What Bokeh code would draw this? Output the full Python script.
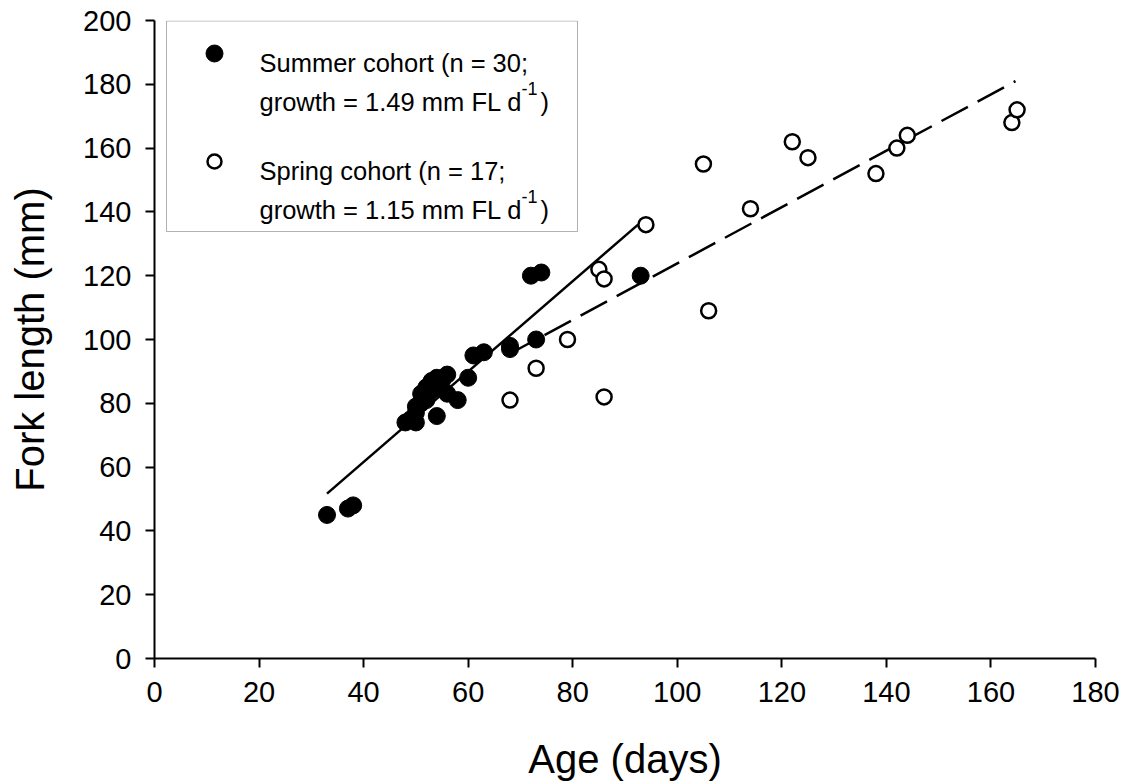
from bokeh.plotting import figure
from bokeh.models import Range1d, FixedTicker, Label, BoxAnnotation
from bokeh.embed import file_html
from bokeh.resources import INLINE

# ---- data ----
summer_age = [33, 37, 38, 48, 49, 50, 50, 50, 51, 51, 52, 52, 52, 53, 53,
              54, 54, 55, 56, 56, 58, 60, 61, 63, 68, 68, 72, 73, 74, 93]
summer_fl = [45, 47, 48, 74, 75, 74, 77, 79, 80, 83, 82, 85, 81, 84, 87,
             76, 88, 87, 89, 83, 81, 88, 95, 96, 98, 97, 120, 100, 121, 120]

spring_age = [68, 73, 79, 85, 86, 86, 94, 105, 106, 114, 122, 125, 138, 142, 144, 164, 165]
spring_fl = [81, 91, 100, 122, 119, 82, 136, 155, 109, 141, 162, 157, 152, 160, 164, 168, 172]

summer_fit_age = [33, 92.5]
summer_fit_fl = [51.7, 136]
spring_fit_age = [67.7, 164.7]
spring_fit_fl = [95.3, 181]

x_ticks = [0, 20, 40, 60, 80, 100, 120, 140, 160, 180]
y_ticks = [0, 20, 40, 60, 80, 100, 120, 140, 160, 180, 200]

legend_line1 = ["Summer cohort (n = 30;", "Spring cohort (n = 17;"]
legend_line2 = ["growth = 1.49 mm FL d", "growth = 1.15 mm FL d"]

FONT = "Liberation Sans"

# ---- layout (pixels) ----
W, H = 1128, 783
FL, FR, FT, FB = 154, 1095, 20, 658
XMAX, YMAX = 180, 200


def px2x(px):
    return (px - FL) / (FR - FL) * XMAX


def py2y(py):
    return (FB - py) / (FB - FT) * YMAX


p = figure(width=W, height=H, output_backend="svg", toolbar_location=None,
           x_range=Range1d(0, XMAX), y_range=Range1d(0, YMAX),
           min_border_left=FL, min_border_right=W - FR,
           min_border_top=FT, min_border_bottom=H - FB)
p.outline_line_color = None
p.grid.visible = False
p.background_fill_color = "white"
p.border_fill_color = "white"

for ax, ticks in ((p.xaxis[0], x_ticks), (p.yaxis[0], y_ticks)):
    ax.ticker = FixedTicker(ticks=ticks)
    ax.axis_line_color = "black"
    ax.axis_line_width = 2
    ax.major_tick_line_color = "black"
    ax.major_tick_line_width = 2
    ax.major_tick_out = 9
    ax.major_tick_in = 0
    ax.minor_tick_line_color = None
    ax.major_label_text_font = FONT
    ax.major_label_text_font_size = "29px"
    ax.major_label_text_color = "black"
    ax.major_label_standoff = 14
    ax.axis_label_text_font = FONT
    ax.axis_label_text_font_size = "40px"
    ax.axis_label_text_font_style = "normal"
    ax.axis_label_text_color = "black"

p.xaxis[0].axis_label = "Age (days)"
p.yaxis[0].axis_label = "Fork length (mm)"
p.xaxis[0].axis_label_standoff = 32
p.yaxis[0].axis_label_standoff = 28

# ---- regression lines ----
p.line(summer_fit_age, summer_fit_fl, line_color="black", line_width=2.5)
p.line(spring_fit_age, spring_fit_fl, line_color="black", line_width=2.5,
       line_dash="30 11")

# ---- points ----
p.scatter(summer_age, summer_fl, marker="circle", size=17,
          fill_color="black", line_color="black", line_width=1)
p.scatter(spring_age, spring_fl, marker="circle", size=15,
          fill_color="white", line_color="black", line_width=2.5)

# ---- legend (manual, for the superscript) ----
p.add_layout(BoxAnnotation(left=px2x(166), right=px2x(577),
                           top=py2y(20.5), bottom=py2y(231),
                           fill_color=None, line_color="black", line_width=1))

p.scatter([px2x(214)], [py2y(53)], marker="circle", size=17,
          fill_color="black", line_color="black")
p.scatter([px2x(214)], [py2y(161)], marker="circle", size=14,
          fill_color="white", line_color="black", line_width=2.5)

base1 = [62, 170]
base2 = [101, 209]
for i in range(2):
    p.add_layout(Label(x=px2x(259), y=py2y(base1[i]), text=legend_line1[i],
                       text_font=FONT, text_font_size="25.5px",
                       text_baseline="alphabetic", text_color="black"))
    p.add_layout(Label(x=px2x(259), y=py2y(base2[i]), text=legend_line2[i],
                       text_font=FONT, text_font_size="25.5px",
                       text_baseline="alphabetic", text_color="black"))
    p.add_layout(Label(x=px2x(521), y=py2y(base2[i] - 13), text="-1",
                       text_font=FONT, text_font_size="18px",
                       text_baseline="alphabetic", text_color="black"))
    p.add_layout(Label(x=px2x(540), y=py2y(base2[i]), text=")",
                       text_font=FONT, text_font_size="25.5px",
                       text_baseline="alphabetic", text_color="black"))

open("out.html", "w").write(file_html(p, INLINE))
